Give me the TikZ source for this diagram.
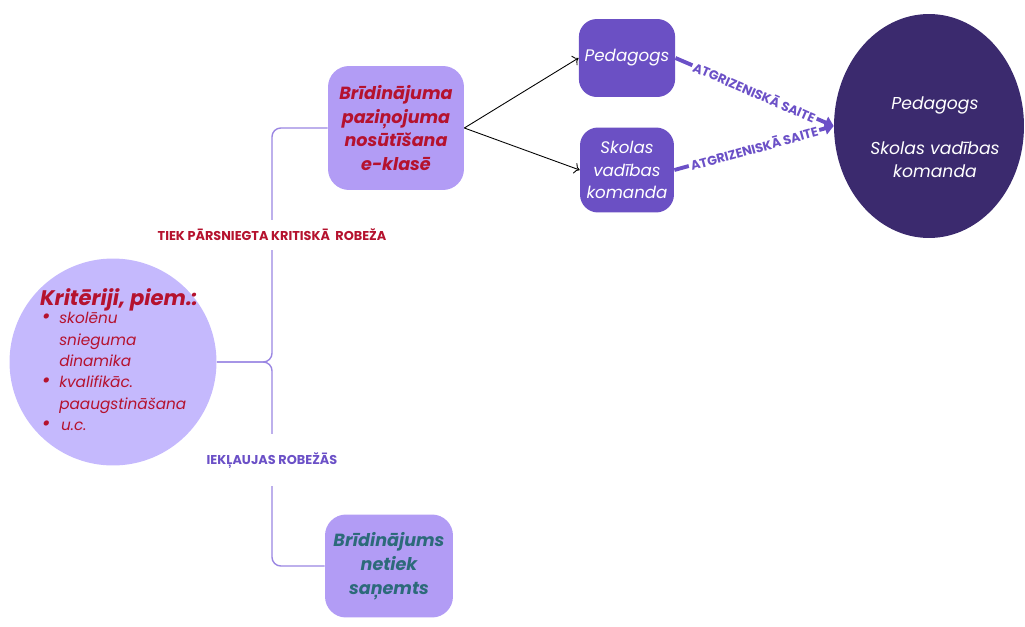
\documentclass[tikz,border=0pt]{standalone}
\usepackage{fontspec}
\setmainfont{Poppins}
\usetikzlibrary{arrows.meta, positioning, shapes.geometric}
\definecolor{critfill}{HTML}{C5B9FD}
\definecolor{boxfill}{HTML}{B29CF5}
\definecolor{rolefill}{HTML}{6B50C4}
\definecolor{teamfill}{HTML}{3B2A6E}
\definecolor{alertred}{HTML}{B5122E}
\definecolor{calmteal}{HTML}{2C6A7A}
\definecolor{linkpurple}{HTML}{6B50C7}
\definecolor{branchline}{HTML}{9A86E2}

\begin{document}
\begin{tikzpicture}[
            x=0.02cm, y=-0.02cm,
            critcircle/.style={circle, fill=critfill, minimum size=4.14cm, inner sep=0pt},
            block/.style={rectangle, rounded corners=0.42cm, fill=boxfill, align=center, inner sep=2pt,
                font=\bfseries\itshape\fontsize{10}{13.6}\selectfont},
            role/.style={rectangle, rounded corners=0.36cm, fill=rolefill, text=white, align=center,
                minimum width=1.88cm, font=\itshape\fontsize{9.5}{12.7}\selectfont},
            branch/.style={draw=branchline, line width=0.8pt, rounded corners=5pt},
            lbl/.style={fill=white, inner xsep=2pt, font=\bfseries\fontsize{7.3}{8}\selectfont},
            feedback/.style={draw=linkpurple, line width=2.2pt, -{Triangle[length=5pt, width=7pt]}},
            fblbl/.style={midway, sloped, fill=white, inner xsep=1pt, inner ysep=0.5pt, text=linkpurple,
                font=\bfseries\fontsize{7.3}{8}\selectfont},
            send/.style={draw=black, line width=0.5pt, -{To[length=3pt]}}
        ]
        \useasboundingbox (0,0) rectangle (1025,626);

        \node[critcircle] (crit) at (113,362) {};
        \node[text=alertred, font=\itshape\fontsize{8.7}{12.2}\selectfont] (critlbl) at (119,363) {%
            \begin{tabular}{@{\hspace{1pt}}c@{\hspace{5pt}}l@{}}
            \multicolumn{2}{@{}l@{}}{\bfseries\fontsize{12}{14}\selectfont Kritēriji, piem.:}\\[-2pt]
            {\large\textbullet} & skolēnu\\
                        & snieguma\\
                        & dinamika\\
            {\large\textbullet} & kvalifikāc.\\
                        & paaugstināšana\\
            {\large\textbullet} & \hspace{1pt}u.c.
            \end{tabular}};

        \node[block, text=alertred, minimum width=2.72cm, minimum height=2.48cm] (warn) at (396,128)
            {Brīdinājuma\\paziņojuma\\nosūtīšana\\e-klasē};
        \node[block, text=calmteal, minimum width=2.56cm, minimum height=2.06cm] (nowarn) at (389,566)
            {Brīdinājums\\netiek\\saņemts};

        \node[role, minimum height=1.56cm] (ped) at (627,58) {Pedagogs};
        \node[role, minimum height=1.7cm] (mgmt) at (627,170) {Skolas\\vadības\\komanda};

        \node[ellipse, fill=teamfill, minimum width=3.8cm, minimum height=4.48cm] (team) at (929,126) {};
        \node[text=white, align=center, font=\itshape\fontsize{9.8}{13}\selectfont] (teamlbl) at (935,137)
            {Pedagogs\\[13pt]Skolas vadības\\komanda};

        % sadalījums pēc kritērija
        \coordinate (fork) at (272,362);
        \draw[branch] (crit.east) -- (fork) |- (warn.west);
        \draw[branch] (crit.east) -- (fork) |- (nowarn.west);
        \node[lbl, text=alertred, inner ysep=5pt] (overlbl) at (272,235) {TIEK PĀRSNIEGTA KRITISKĀ\ \ ROBEŽA};
        \node[lbl, text=linkpurple, inner ysep=10pt] (withinlbl) at (272,460) {IEKĻAUJAS ROBEŽĀS};

        \draw[send] (warn.east) -- (ped.west);
        \draw[send] (warn.east) -- (mgmt.west);

        \draw[feedback] (ped.east) -- (team.west) node[fblbl] (fbped) {ATGRIZENISKĀ SAITE};
        \draw[feedback] (mgmt.east) -- (team.west) node[fblbl] (fbmgmt) {ATGRIZENISKĀ SAITE};

    \end{tikzpicture}
\end{document}
